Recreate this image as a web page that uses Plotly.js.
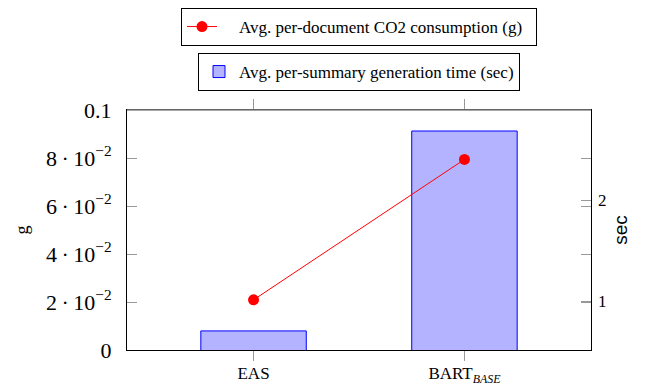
<!DOCTYPE html>
<html>
<head>
<meta charset="utf-8">
<script src="https://cdn.plot.ly/plotly-3.0.1.min.js"></script>
<style>html,body{margin:0;padding:0;background:#fff}#chart{width:648px;height:386px}</style>
</head>
<body>
<div id="chart"></div>
<script>
const categories = ['EAS', 'BART<sub><i>BASE</i></sub>'];
const co2Grams = [0.0209, 0.0794];
const genTimeSec = [0.71, 2.68];
const leftTickVals = [0, 0.02, 0.04, 0.06, 0.08, 0.1];
const leftTickText = ['0', '2\u2009·\u200910<sup>−2</sup>', '4\u2009·\u200910<sup>−2</sup>', '6\u2009·\u200910<sup>−2</sup>', '8\u2009·\u200910<sup>−2</sup>', '0.1'];
const rightTickVals = [1, 2];
const rightTickText = ['1', '2'];
const lineName = 'Avg. per-document CO2 consumption (g)';
const barName = 'Avg. per-summary generation time (sec)';

const xIdx = categories.map((c, i) => i);

const barTrace = {
  type: 'bar', x: xIdx, y: genTimeSec, yaxis: 'y', name: barName, legend: 'legend2',
  width: 0.5,
  marker: {color: 'rgb(179,179,255)', line: {color: '#0000ff', width: 1}},
  hoverinfo: 'y'
};
const lineTrace = {
  type: 'scatter', mode: 'lines+markers', x: xIdx, y: co2Grams, yaxis: 'y2',
  name: '\u2002\u2002' + lineName + '\u2002', legend: 'legend',
  line: {color: '#ff0000', width: 1},
  marker: {color: '#ff0000', size: 11},
  hoverinfo: 'y'
};

const serif = '"Liberation Serif", "Times New Roman", serif';
const sans = '"Liberation Sans", Arial, sans-serif';
const layout = {
  width: 648, height: 386,
  margin: {l: 127, r: 57, t: 110, b: 36, pad: 0},
  paper_bgcolor: '#fff', plot_bgcolor: '#fff',
  font: {family: serif, color: '#000'},
  showlegend: true,
  xaxis: {
    range: [-0.6, 1.6], tickvals: xIdx, ticktext: categories,
    showgrid: false, zeroline: false,
    showline: true, linecolor: '#000', linewidth: 1, mirror: 'allticks',
    ticks: 'outside', ticklen: 10, tickcolor: '#999', tickwidth: 1,
    ticklabelstandoff: -2,
    tickfont: {family: serif, size: 17, color: '#000'}
  },
  // right axis (seconds) – bars
  yaxis: {
    side: 'right',
    range: [0.522, 2.887], tickvals: rightTickVals, ticktext: rightTickText,
    showgrid: false, zeroline: false, showline: false,
    ticks: 'inside', ticklen: 10, tickcolor: '#999', tickwidth: 1,
    ticklabelstandoff: 6,
    tickfont: {family: serif, size: 17, color: '#000'},
    title: {text: 'sec', font: {family: sans, size: 19, color: '#000'}, standoff: 8}
  },
  // left axis (grams) – line, overlaid so it draws above the bars
  yaxis2: {
    overlaying: 'y', side: 'left',
    range: [0, 0.1], tickvals: leftTickVals, ticktext: leftTickText,
    showgrid: false, zeroline: false,
    showline: true, linecolor: '#000', linewidth: 1, mirror: 'ticks',
    ticks: 'inside', ticklen: 10, tickcolor: '#999', tickwidth: 1,
    ticklabelstandoff: 10,
    tickfont: {family: serif, size: 22, color: '#000'},
    title: {text: 'g', font: {family: serif, size: 18, color: '#000'}, standoff: 12}
  },
  legend: {
    x: 0.5, xanchor: 'center', xref: 'paper',
    y: 1 - 8 / 386, yanchor: 'top', yref: 'container',
    bgcolor: '#fff', bordercolor: '#000', borderwidth: 1,
    font: {family: serif, size: 17, color: '#000'}
  },
  legend2: {
    x: 0.5, xanchor: 'center', xref: 'paper',
    y: 1 - 53 / 386, yanchor: 'top', yref: 'container',
    bgcolor: '#fff', bordercolor: '#000', borderwidth: 1,
    font: {family: serif, size: 17, color: '#000'}
  },
  shapes: [
    {type: 'line', xref: 'paper', yref: 'paper', x0: 0, x1: 1, y0: 1, y1: 1, line: {color: '#888', width: 1.5}, layer: 'above'}
  ]
};

Plotly.newPlot('chart', [barTrace, lineTrace], layout, {displayModeBar: false, staticPlot: true});
</script>
</body>
</html>
